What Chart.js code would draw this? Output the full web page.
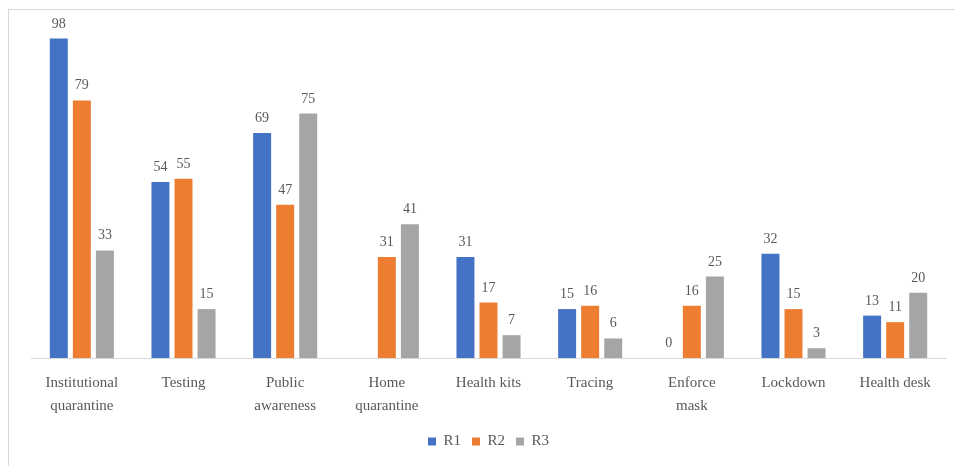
<!DOCTYPE html>
<html>
<head>
<meta charset="utf-8">
<style>
  html, body { margin: 0; padding: 0; background: #fff; }
  #wrap { position: relative; width: 955px; height: 466px; }
  #frame { position: absolute; left: 8px; top: 9px; right: 0; bottom: 0;
           border-left: 1px solid #d9d9d9; border-top: 1px solid #d9d9d9; }
  canvas { position: absolute; left: 0; top: 0; }
</style>
<script src="https://cdn.jsdelivr.net/npm/chart.js@4"></script>
</head>
<body>
<div id="wrap">
  <div id="frame"></div>
  <canvas id="chart" width="955" height="466"></canvas>
</div>
<script>
// categories and series
const categories = [
  ['Institutional', 'quarantine'], 'Testing', ['Public', 'awareness'],
  ['Home', 'quarantine'], 'Health kits', 'Tracing', ['Enforce', 'mask'],
  'Lockdown', 'Health desk'
];
const r1 = [98, 54, 69, null, 31, 15, 0, 32, 13];
const r2 = [79, 55, 47, 31, 17, 16, 16, 15, 11];
const r3 = [33, 15, 75, 41, 7, 6, 25, 3, 20];

const serif = '"Liberation Serif", "Times New Roman", serif';

// value labels above each bar (skips missing values)
const barLabels = {
  id: 'barLabels',
  afterDatasetsDraw(chart) {
    const ctx = chart.ctx;
    ctx.save();
    ctx.font = '14px ' + serif;
    ctx.fillStyle = '#595959';
    ctx.textAlign = 'center';
    ctx.textBaseline = 'alphabetic';
    chart.data.datasets.forEach((ds, i) => {
      chart.getDatasetMeta(i).data.forEach((bar, j) => {
        if (ds.data[j] === null) return;
        ctx.fillText(ds.data[j], bar.x, bar.y - 11);
      });
    });
    ctx.restore();
  }
};

new Chart(document.getElementById('chart'), {
  type: 'bar',
  data: {
    labels: categories,
    datasets: [
      { label: 'R1', data: r1, backgroundColor: '#4472C4' },
      { label: 'R2', data: r2, backgroundColor: '#ED7D31' },
      { label: 'R3', data: r3, backgroundColor: '#A5A5A5' }
    ]
  },
  options: {
    responsive: false,
    animation: false,
    categoryPercentage: 0.68,
    barPercentage: 0.78,
    layout: { padding: { left: 31, right: 9, top: 32, bottom: 7 } },
    plugins: {
      legend: {
        position: 'bottom',
        labels: {
          boxWidth: 8, boxHeight: 8, padding: 11,
          color: '#595959',
          font: { family: serif, size: 15 }
        }
      },
      tooltip: { enabled: false }
    },
    scales: {
      x: {
        grid: { display: false },
        border: { color: '#d9d9d9' },
        ticks: {
          color: '#595959', padding: 6, maxRotation: 0, autoSkip: false,
          font: { family: serif, size: 15, lineHeight: 1.5 }
        }
      },
      y: { display: false, min: 0, max: 100 }
    }
  },
  plugins: [barLabels]
});
</script>
</body>
</html>
